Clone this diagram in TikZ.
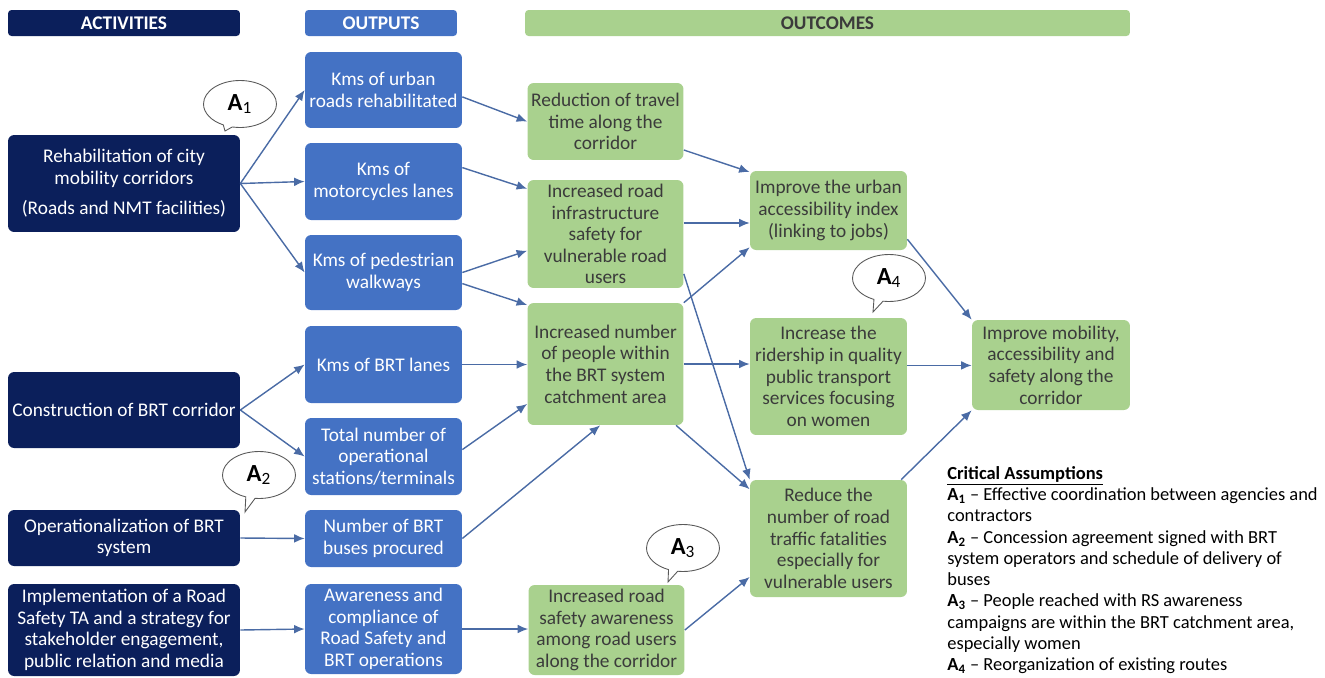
\documentclass[tikz,border=0pt]{standalone}
\usepackage{fontspec}
\setmainfont{Carlito}
\usepackage{tikz}
\usetikzlibrary{arrows.meta,shapes.callouts,positioning}
\definecolor{actnavy}{HTML}{0B1F5B}
\definecolor{outblue}{HTML}{4472C4}
\definecolor{ocgreen}{HTML}{A9D18E}
\definecolor{octext}{HTML}{3B3B3B}
\definecolor{linkblue}{HTML}{4A6BA5}
\tikzset{>={Latex[length=6pt,width=5pt]}}

\begin{document}
\begin{tikzpicture}[x=0.02cm, y=-0.02cm,
                    box/.style={rounded corners=3.5pt, align=center, inner sep=1pt,
                                font=\fontsize{11}{12.3}\selectfont},
                    actbox/.style={box, fill=actnavy, text=white, minimum width=4.64cm},
                    outbox/.style={box, fill=outblue, text=white, minimum width=3.14cm},
                    ocbox/.style={box, fill=ocgreen, text=octext, minimum width=3.12cm},
                    hdr/.style={rounded corners=2pt, minimum height=0.52cm, inner sep=0pt,
                                font=\fontsize{11}{12}\selectfont\bfseries},
                    link/.style={->, linkblue, line width=0.8pt},
                    note/.style={ellipse callout, draw=gray!70!black, fill=white, line width=0.5pt,
                                 minimum width=1.46cm, minimum height=0.94cm, inner sep=0pt,
                                 font=\fontsize{14}{16}\selectfont},
                   ]

\useasboundingbox (0,0) rectangle (1325,677);

% column headers
\node[hdr, fill=actnavy, text=white, minimum width=4.64cm] (acthdr) at (124,23) {ACTIVITIES};
\node[hdr, fill=outblue, text=white, minimum width=3.04cm] (outhdr) at (381,23) {OUTPUTS};
\node[hdr, fill=ocgreen, text=octext, minimum width=12.1cm] (ochdr) at (827.5,23) {OUTCOMES};

% activities
\node[actbox, minimum height=1.94cm] (rehab) at (124,183.5) {Rehabilitation of city\\ mobility corridors\\[5pt] (Roads and NMT facilities)};
\node[actbox, minimum height=1.52cm] (constr) at (124,410) {Construction of BRT corridor};
\node[actbox, minimum height=1.12cm] (oper) at (124,538) {Operationalization of BRT\\ system};
\node[actbox, minimum height=1.84cm] (impl) at (124,630) {Implementation of a Road\\ Safety TA and a strategy for\\ stakeholder engagement,\\ public relation and media};

% outputs
\node[outbox, minimum height=1.52cm] (urban) at (383.5,90) {Kms of urban\\ roads rehabilitated};
\node[outbox, minimum height=1.54cm] (moto) at (383.5,181.5) {Kms of\\ motorcycles lanes};
\node[outbox, minimum height=1.50cm] (ped) at (383.5,272.5) {Kms of pedestrian\\ walkways};
\node[outbox, minimum height=1.54cm] (brtl) at (383.5,364.5) {Kms of BRT lanes};
\node[outbox, minimum height=1.54cm] (stations) at (383.5,456.5) {Total number of\\ operational\\ stations/terminals};
\node[outbox, minimum height=1.14cm] (buses) at (383.5,538.5) {Number of BRT\\ buses procured};
\node[outbox, minimum height=1.80cm] (aware) at (383.5,629) {Awareness and\\ compliance of\\ Road Safety and\\ BRT operations};

% outcomes
\node[ocbox, minimum height=1.54cm] (travel) at (605.5,121.5) {Reduction of travel\\ time along the\\ corridor};
\node[ocbox, minimum height=2.16cm] (infra) at (605.5,234) {Increased road\\ infrastructure\\ safety for\\ vulnerable road\\ users};
\node[ocbox, minimum height=2.44cm] (people) at (605.5,364) {Increased number\\ of people within\\ the BRT system\\ catchment area};
\node[ocbox, minimum height=1.80cm] (rsaware) at (606.5,630) {Increased road\\ safety awareness\\ among road users\\ along the corridor};
\node[ocbox, minimum width=3.14cm, minimum height=1.58cm] (access) at (828.5,210.5) {Improve the urban\\ accessibility index\\ (linking to jobs)};
\node[ocbox, minimum width=3.14cm, minimum height=2.34cm] (rider) at (828.5,376.5) {Increase the\\ ridership in quality\\ public transport\\ services focusing\\ on women};
\node[ocbox, minimum width=3.14cm, minimum height=2.34cm] (fatal) at (828.5,538.5) {Reduce the\\ number of road\\ traffic fatalities\\ especially for\\ vulnerable users};
\node[ocbox, minimum width=3.16cm, minimum height=1.80cm] (mobility) at (1051,365) {Improve mobility,\\ accessibility and\\ safety along the\\ corridor};

% assumption callouts
\node[note, callout absolute pointer={(225,131)}] (a1) at (240,104) {\textbf{A}\textsubscript{1}};
\node[note, callout absolute pointer={(245,512)}] (a2) at (259,475) {\textbf{A}\textsubscript{2}};
\node[note, callout absolute pointer={(668,582)}] (a3) at (683,548) {\textbf{A}\textsubscript{3}};
\node[note, callout absolute pointer={(873,312)}] (a4) at (889,278) {\textbf{A}\textsubscript{4}};

% activities -> outputs
\draw[link] (rehab.east) -- (urban.west);
\draw[link] (rehab.east) -- (moto.west);
\draw[link] (rehab.east) -- (ped.west);
\draw[link] (constr.east) -- (brtl.west);
\draw[link] (constr.east) -- (stations.west);
\draw[link] (oper.east) -- (buses.west);
\draw[link] (impl.east) -- (aware.west);

% outputs -> outcomes
\draw[link] (urban.-5) -- (travel.west);
\draw[link] (moto.10) -- (infra.150);
\draw[link] (ped.east) -- (infra.-168);
\draw[link] (ped.-8) -- (people.143);
\draw[link] (brtl.east) -- (brtl.east -| people.west);
\draw[link] (stations.5) -- (people.-153);
\draw[link] (buses.east) -- (people.-95);
\draw[link] (aware.east) -- (aware.east -| rsaware.west);

% outcomes -> outcomes
\draw[link] (travel.-20) -- (access.154);
\draw[link] (infra.8) -- (infra.8 -| access.west);
\draw[link] (people.north east) -- (access.-155);
\draw[link] (infra.-27) -- (fatal.north west);
\draw[link] (people.east) -- (people.east -| rider.west);
\draw[link] (people.-41) -- (fatal.148);
\draw[link] (rsaware.east) -- (fatal.-154);
\draw[link] (access.-20) -- (mobility.north west);
\draw[link] (rider.8) -- (rider.8 -| mobility.west);
\draw[link] (fatal.39) -- (mobility.south west);

% critical assumptions
\node[anchor=north west, align=left, inner sep=0pt, font=\fontsize{10.5}{12.1}\selectfont] (crit) at (947,466)
  {\underline{\textbf{Critical Assumptions}}\\
   \textbf{A\textsubscript{1}} -- Effective coordination between agencies and\\
   contractors\\
   \textbf{A\textsubscript{2}} -- Concession agreement signed with BRT\\
   system operators and schedule of delivery of\\
   buses\\
   \textbf{A\textsubscript{3}} -- People reached with RS awareness\\
   campaigns are within the BRT catchment area,\\
   especially women\\
   \textbf{A\textsubscript{4}} -- Reorganization of existing routes};

\end{tikzpicture}
\end{document}
